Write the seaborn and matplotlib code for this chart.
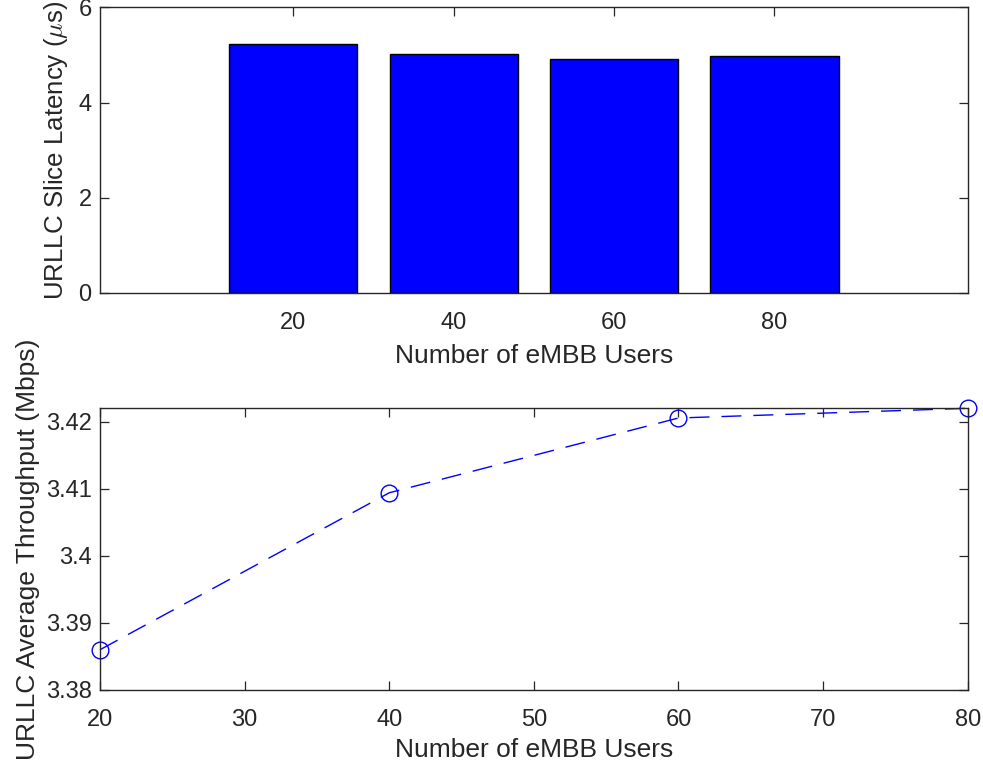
import matplotlib
matplotlib.use("Agg")
import matplotlib.pyplot as plt
import seaborn as sns
import pandas as pd

# Data
users = [20, 40, 60, 80]
latency_us = [5.236, 5.017, 4.920, 4.968]
throughput_mbps = [3.3860, 3.4094, 3.42055, 3.4220]
x_ticks_bottom = [20, 30, 40, 50, 60, 70, 80]
y_ticks_top = [0, 2, 4, 6]
y_ticks_bottom = [3.38, 3.39, 3.40, 3.41, 3.42]
y_ticklabels_bottom = ["3.38", "3.39", "3.4", "3.41", "3.42"]

sns.set_theme(style="white")
plt.rcParams['font.family'] = ['Liberation Sans', 'DejaVu Sans']
plt.rcParams['mathtext.fontset'] = 'cm'

TXT = '#262626'
AX = '#262626'
FS_TICK = 17
FS_LAB = 19

fig = plt.figure(figsize=(9.83, 7.67), dpi=100)
ax1 = fig.add_axes([0.1017, 0.618, 0.9845 - 0.1017, 0.9905 - 0.618])
ax2 = fig.add_axes([0.1017, 0.1004, 0.9845 - 0.1017, 0.4677 - 0.1004])

df_bar = pd.DataFrame({"users": [str(u) for u in users], "latency": latency_us})
sns.barplot(data=df_bar, x="users", y="latency", ax=ax1, color=(0, 0, 1),
            saturation=1, width=0.8, edgecolor='black', linewidth=1.0)
ax1.set_xlim(-1.205, 4.205)
ax1.set_ylim(0, 6)
ax1.set_yticks(y_ticks_top)
ax1.set_xlabel("Number of eMBB Users", fontsize=FS_LAB, color=TXT, labelpad=7)
ax1.set_ylabel(r"URLLC Slice Latency ($\mu$s)", fontsize=18.6, color=TXT, labelpad=6)

df_line = pd.DataFrame({"users": users, "tp": throughput_mbps})
sns.lineplot(data=df_line, x="users", y="tp", ax=ax2, color=(0, 0, 1),
             linewidth=1.0, marker='o', markersize=12, markerfacecolor='none',
             markeredgecolor=(0, 0, 1), markeredgewidth=1.0, clip_on=False)
line = ax2.lines[0]
line.set_dashes((14.4, 8.6))
ax2.set_xlim(20, 80)
ax2.set_ylim(3.38, max(throughput_mbps))
ax2.set_xticks(x_ticks_bottom)
ax2.set_yticks(y_ticks_bottom)
ax2.set_yticklabels(y_ticklabels_bottom)
ax2.set_xlabel("Number of eMBB Users", fontsize=FS_LAB, color=TXT, labelpad=5)
ax2.set_ylabel("URLLC Average Throughput (Mbps)", fontsize=FS_LAB, color=TXT, labelpad=4)

for ax in (ax1, ax2):
    for s in ax.spines.values():
        s.set_visible(True)
        s.set_color(AX)
        s.set_linewidth(1.0)
    ax.tick_params(direction='in', length=6.5, width=0.9, color=AX,
                   labelsize=FS_TICK, labelcolor=TXT, top=True, right=True,
                   bottom=True, left=True)
    ax.tick_params(axis='y', pad=6)
    ax.tick_params(axis='x', pad=14)
    ax.grid(False)

fig.savefig("out.png", dpi=100, facecolor='white')
